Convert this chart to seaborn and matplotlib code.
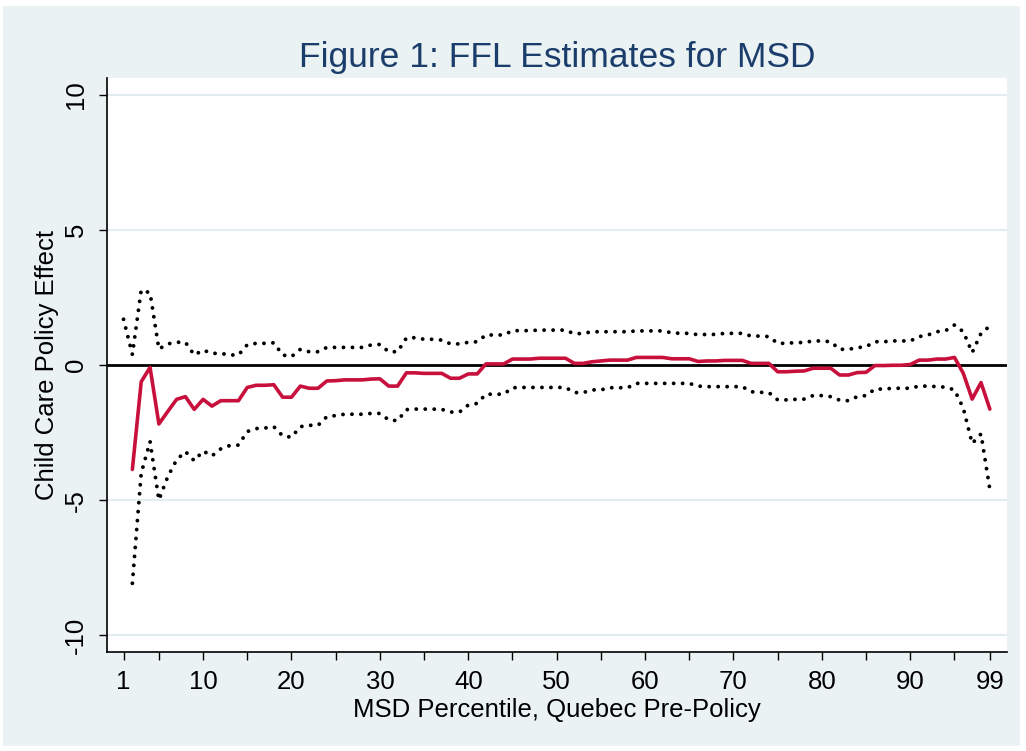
import numpy as np
import pandas as pd
import matplotlib
matplotlib.use("Agg")
import matplotlib.pyplot as plt
import seaborn as sns
from matplotlib.patches import Rectangle

# MSD percentiles on the x axis
percentile = list(range(1, 100))

# Point estimate of the child care policy effect (no estimate at the 1st percentile)
estimate = [
    np.nan, -3.86, -0.62, -0.09, -2.18, -1.72, -1.27, -1.17, -1.64, -1.27,
    -1.52, -1.32, -1.32, -1.32, -0.83, -0.75, -0.75, -0.73, -1.19, -1.19,
    -0.78, -0.86, -0.86, -0.59, -0.58, -0.55, -0.55, -0.55, -0.52, -0.51,
    -0.78, -0.78, -0.29, -0.29, -0.31, -0.31, -0.31, -0.49, -0.49, -0.33,
    -0.33, 0.04, 0.04, 0.04, 0.22, 0.22, 0.22, 0.25, 0.25, 0.25,
    0.25, 0.06, 0.06, 0.12, 0.15, 0.18, 0.18, 0.18, 0.28, 0.28,
    0.28, 0.28, 0.23, 0.23, 0.23, 0.13, 0.15, 0.15, 0.17, 0.17,
    0.17, 0.06, 0.06, 0.06, -0.25, -0.25, -0.23, -0.22, -0.12, -0.12,
    -0.12, -0.37, -0.37, -0.28, -0.27, -0.02, -0.02, -0.01, -0.01, 0.02,
    0.18, 0.18, 0.22, 0.22, 0.28, -0.31, -1.26, -0.65, -1.63,
]

# Upper confidence bound
upper = [
    1.69, 0.39, 2.77, 2.67, 0.59, 0.78, 0.84, 0.84, 0.37, 0.55,
    0.43, 0.43, 0.37, 0.37, 0.75, 0.80, 0.80, 0.82, 0.37, 0.31,
    0.58, 0.49, 0.49, 0.65, 0.65, 0.65, 0.65, 0.65, 0.74, 0.76,
    0.49, 0.49, 1.00, 1.01, 0.95, 0.95, 0.92, 0.78, 0.78, 0.84,
    0.86, 1.11, 1.11, 1.11, 1.27, 1.27, 1.27, 1.29, 1.29, 1.29,
    1.29, 1.15, 1.17, 1.23, 1.23, 1.23, 1.23, 1.23, 1.26, 1.26,
    1.26, 1.26, 1.19, 1.17, 1.17, 1.12, 1.13, 1.13, 1.17, 1.17,
    1.17, 1.07, 1.07, 1.05, 0.80, 0.80, 0.83, 0.83, 0.89, 0.89,
    0.86, 0.58, 0.58, 0.64, 0.68, 0.86, 0.86, 0.89, 0.89, 0.89,
    1.05, 1.11, 1.23, 1.27, 1.48, 1.23, 0.46, 1.17, 1.44,
]

# Lower confidence bound
lower = [
    np.nan, -8.07, -4.00, -2.83, -4.99, -4.13, -3.51, -3.20, -3.54, -3.18,
    -3.36, -3.10, -2.98, -2.96, -2.46, -2.35, -2.33, -2.28, -2.62, -2.67,
    -2.28, -2.23, -2.23, -1.91, -1.87, -1.82, -1.82, -1.82, -1.79, -1.79,
    -2.03, -2.06, -1.65, -1.63, -1.63, -1.63, -1.64, -1.74, -1.74, -1.48,
    -1.42, -1.08, -1.08, -1.08, -0.84, -0.83, -0.83, -0.83, -0.83, -0.83,
    -0.83, -1.02, -1.02, -0.92, -0.92, -0.84, -0.84, -0.84, -0.68, -0.68,
    -0.68, -0.68, -0.68, -0.68, -0.68, -0.78, -0.80, -0.80, -0.80, -0.80,
    -0.80, -0.99, -1.01, -1.02, -1.29, -1.29, -1.27, -1.26, -1.13, -1.13,
    -1.17, -1.30, -1.32, -1.17, -1.13, -0.89, -0.89, -0.86, -0.86, -0.86,
    -0.78, -0.78, -0.80, -0.82, -0.92, -1.60, -2.90, -2.55, -4.60,
]

x_ticks = [1, 10, 20, 30, 40, 50, 60, 70, 80, 90, 99]
x_minor = [5, 15, 25, 35, 45, 55, 65, 75, 85, 95]
y_ticks = [-10, -5, 0, 5, 10]

title = "Figure 1: FFL Estimates for MSD"
x_label = "MSD Percentile, Quebec Pre-Policy"
y_label = "Child Care Policy Effect"

df = pd.DataFrame({"pct": percentile, "est": estimate, "hi": upper, "lo": lower})

sns.set_theme(style="white")
plt.rcParams["font.family"] = ["Liberation Sans", "DejaVu Sans"]

BG = "#EAF2F3"
fig = plt.figure(figsize=(10.26, 7.51), dpi=100, facecolor="white")
fig.patches.append(Rectangle((3 / 1026, 5 / 751), 1017 / 1026, 740 / 751,
                             transform=fig.transFigure, facecolor=BG,
                             edgecolor="none", zorder=-10))
ax = fig.add_axes([107 / 1026, 1 - 652 / 751, 900 / 1026, 574 / 751])
ax.set_facecolor("white")

# light horizontal grid at the major y ticks
for yv in y_ticks:
    if yv != 0:
        ax.axhline(yv, color="#E3EDEF", lw=1.5, zorder=0)
ax.axhline(0, color="black", lw=2.0, zorder=1)

# round dots for the confidence bounds
dot = (0, (0.01, 2.3))
for col in ("hi", "lo"):
    sns.lineplot(data=df, x="pct", y=col, ax=ax, color="black", lw=2.8,
                 linestyle=dot, dash_capstyle="round", estimator=None,
                 sort=False, zorder=2)
sns.lineplot(data=df, x="pct", y="est", ax=ax, color="#C8103C", lw=2.6,
             estimator=None, sort=False, zorder=3)

ax.set_xlim(-0.87, 100.94)
ax.set_ylim(-10.61, 10.61)

ax.set_xticks(x_ticks)
ax.set_xticklabels([str(v) for v in x_ticks], fontsize=18.5)
ax.set_xticks(x_minor, minor=True)
ax.set_yticks(y_ticks)
ax.set_yticklabels([str(v) for v in y_ticks], fontsize=18.5,
                   rotation=90, va="center")
ax.tick_params(axis="both", which="both", direction="out", length=6,
               width=1.0, color="black", labelcolor="black")
ax.tick_params(axis="x", which="both", bottom=True, pad=7)
ax.tick_params(axis="y", which="both", left=True, pad=8)

for side in ("top", "right"):
    ax.spines[side].set_visible(False)
for side in ("left", "bottom"):
    ax.spines[side].set_color("black")
    ax.spines[side].set_linewidth(1.2)

ax.set_xlabel(x_label, fontsize=18.5, color="black", labelpad=3)
ax.set_ylabel(y_label, fontsize=18.5, color="black", labelpad=3)
ax.set_title(title, fontsize=25.5, color="#1B3D6B", pad=8)

fig.savefig("out.png", dpi=100, facecolor=fig.get_facecolor())
